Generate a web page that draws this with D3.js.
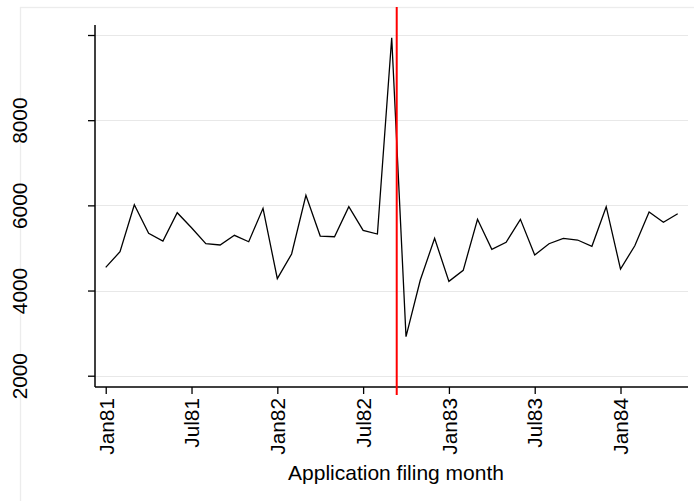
<!DOCTYPE html>
<html>
<head>
<meta charset="utf-8">
<script src="https://cdn.jsdelivr.net/npm/d3@7"></script>
<style>
  html, body { margin: 0; padding: 0; background: #ffffff; }
  svg { display: block; }
  text { font-family: "Liberation Sans", Arial, sans-serif; fill: #000; }
</style>
</head>
<body>
<svg id="chart" width="694" height="501"></svg>
<script>
// Monthly application counts, Jan 1981 .. May 1984 (month index 0..40)
const monthIndex = d3.range(41);
const applications = [
  4545, 4912, 6015, 5344, 5163, 5827, 5475, 5099, 5069, 5297,
  5146, 5931, 4278, 4858, 6236, 5280, 5264, 5968, 5414, 5327,
  9936, 2916, 4247, 5226, 4216, 4475, 5672, 4968, 5132, 5672,
  4834, 5099, 5226, 5186, 5038, 5968, 4505, 5052, 5844, 5602,
  5804
];
const xTickIndex = [0, 6, 12, 18, 24, 30, 36];
const xTickLabels = ["Jan81", "Jul81", "Jan82", "Jul82", "Jan83", "Jul83", "Jan84"];
const yTickValues = [2000, 4000, 6000, 8000, 10000];
const yTickLabels = ["2000", "4000", "6000", "8000", ""];
const eventMonth = 20.35;   // red vertical reference line
const xTitle = "Application filing month";

const svg = d3.select("#chart");

// Outer graph-region frame
svg.append("rect")
  .attr("x", 20.5).attr("y", 7.5)
  .attr("width", 700).attr("height", 520)
  .attr("fill", "none").attr("stroke", "#ececec").attr("stroke-width", 1.3);

const plot = { left: 95, right: 688, top: 25, bottom: 387 };

const x = d3.scaleLinear()
  .domain([-0.75, 40.72])
  .range([plot.left, plot.right]);

const y = d3.scaleLinear()
  .domain([1735, 10235])
  .range([plot.bottom, plot.top]);

// Gridlines
svg.append("g")
  .selectAll("line")
  .data(yTickValues)
  .join("line")
  .attr("x1", plot.left).attr("x2", plot.right)
  .attr("y1", d => Math.round(y(d)) + 0.5).attr("y2", d => Math.round(y(d)) + 0.5)
  .attr("stroke", "#e8e8e8").attr("stroke-width", 1.2);

// Y axis
const yAxis = svg.append("g")
  .attr("transform", `translate(${plot.left},0)`)
  .call(d3.axisLeft(y).tickValues(yTickValues).tickSize(7).tickSizeOuter(0)
    .tickFormat((d, i) => yTickLabels[i]));
yAxis.select(".domain").attr("stroke", "#000").attr("stroke-width", 1.5)
  .attr("d", `M0,${plot.top}V${plot.bottom}`);
yAxis.selectAll(".tick line").attr("stroke", "#000").attr("stroke-width", 1.3);
yAxis.selectAll(".tick text")
  .attr("transform", "rotate(-90)")
  .attr("x", 0).attr("y", -68).attr("dy", 0)
  .attr("text-anchor", "middle")
  .style("font-size", "20.8px")
  .style("font-family", "'Liberation Sans', Arial, sans-serif")
  .attr("fill", "#000");

// X axis
const xAxis = svg.append("g")
  .attr("transform", `translate(0,${plot.bottom})`)
  .call(d3.axisBottom(x).tickValues(xTickIndex).tickSize(7).tickSizeOuter(0)
    .tickFormat((d, i) => xTickLabels[i]));
xAxis.select(".domain").attr("stroke", "#000").attr("stroke-width", 1.5)
  .attr("d", `M${plot.left},0H${plot.right}`);
xAxis.selectAll(".tick line").attr("stroke", "#000").attr("stroke-width", 1.3);
xAxis.selectAll(".tick text")
  .attr("transform", "rotate(-90)")
  .attr("x", -11).attr("y", 0).attr("dy", "0.35em")
  .attr("text-anchor", "end")
  .style("font-size", "20.8px")
  .style("font-family", "'Liberation Sans', Arial, sans-serif")
  .attr("fill", "#000");

// X title
svg.append("text")
  .attr("x", 396).attr("y", 480)
  .attr("text-anchor", "middle")
  .style("font-size", "21px")
  .text(xTitle);

// Data line
const line = d3.line()
  .x((d, i) => x(monthIndex[i]))
  .y(d => y(d));
svg.append("path")
  .datum(applications)
  .attr("d", line)
  .attr("fill", "none")
  .attr("stroke", "#000")
  .attr("stroke-width", 1.3)
  .attr("stroke-linejoin", "miter");

// Red reference line
svg.append("line")
  .attr("x1", x(eventMonth)).attr("x2", x(eventMonth))
  .attr("y1", 7).attr("y2", 395)
  .attr("stroke", "#ff0000").attr("stroke-width", 2);
</script>
</body>
</html>
